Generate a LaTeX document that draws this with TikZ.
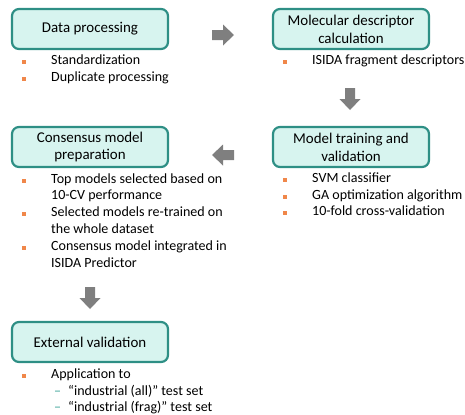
\documentclass[tikz,border=0pt]{standalone}
\usepackage{fontspec}
\setmainfont{Carlito}
\definecolor{boxfill}{HTML}{D7F4EF}
\definecolor{boxline}{HTML}{2E8F85}
\definecolor{bulletc}{HTML}{F0874A}
\definecolor{arrowc}{HTML}{7F7F7F}
\definecolor{dashc}{HTML}{3BA397}
\begin{document}
\begin{tikzpicture}[x=1bp,y=-1bp,
  stepbox/.style={draw=boxline, line width=2.2bp, fill=boxfill, rounded corners=7bp,
    minimum width=156bp, minimum height=40bp, align=center, inner sep=0pt,
    font=\fontsize{15}{18}\selectfont},
  bul/.style={anchor=mid west, inner sep=0pt, font=\fontsize{14.1}{17}\selectfont},
  sqmark/.style={fill=bulletc, minimum size=4bp, inner sep=0pt},
  subdash/.style={anchor=mid west, inner sep=0pt, text=dashc, font=\fontsize{14.1}{17}\selectfont},
  blk/.pic={\fill[arrowc] (-11,-5) -- (0,-5) -- (0,-10.5) -- (11,0) -- (0,10.5) -- (0,5) -- (-11,5) -- cycle;}
]
\useasboundingbox (0,0) rectangle (465,414);

% boxes
\node[stepbox] (dp) at (90,29) {Data processing};
\node[stepbox] (md) at (351,29) {Molecular descriptor\\calculation};
\node[stepbox] (mt) at (351,147) {Model training and\\validation};
\node[stepbox] (cm) at (90,147) {Consensus model\\preparation};
\node[stepbox] (ev) at (90,342) {External validation};

% block arrows
\pic at (223,35) {blk};
\pic[rotate=-90] at (350,99) {blk};
\pic[rotate=180] at (223,155) {blk};
\pic[rotate=-90] at (90,298) {blk};

% bullets: data processing
\node[sqmark] (b1) at (24,62) {};
\node[bul] (t1) at (51,62) {Standardization};
\node[sqmark] (b2) at (24,79) {};
\node[bul] (t2) at (51,79) {Duplicate processing};

% molecular descriptor
\node[sqmark] (b3) at (285,62) {};
\node[bul] (t3) at (312,62) {ISIDA fragment descriptors};

% model training
\node[sqmark] (b4) at (285,180) {};
\node[bul] (t4) at (312,180) {SVM classifier};
\node[sqmark] (b5) at (285,197) {};
\node[bul] (t5) at (312,197) {GA optimization algorithm};
\node[sqmark] (b6) at (285,213) {};
\node[bul] (t6) at (312,213) {10-fold cross-validation};

% consensus
\node[sqmark] (b7) at (24,181) {};
\node[bul] (t7) at (51,181) {Top models selected based on};
\node[bul] (t7b) at (51,197) {10-CV performance};
\node[sqmark] (b8) at (24,214) {};
\node[bul] (t8) at (51,214) {Selected models re-trained on};
\node[bul] (t8b) at (51,231) {the whole dataset};
\node[sqmark] (b9) at (24,248) {};
\node[bul] (t9) at (51,248) {Consensus model integrated in};
\node[bul] (t9b) at (51,265) {ISIDA Predictor};

% external validation
\node[sqmark] (b10) at (24,376) {};
\node[bul] (t10) at (51,376) {Application to};
\node[subdash] (d1) at (54,393) {–};
\node[bul] (t11) at (68,393) {“industrial (all)” test set};
\node[subdash] (d2) at (54,409) {–};
\node[bul] (t12) at (68,409) {“industrial (frag)” test set};
\end{tikzpicture}
\end{document}
